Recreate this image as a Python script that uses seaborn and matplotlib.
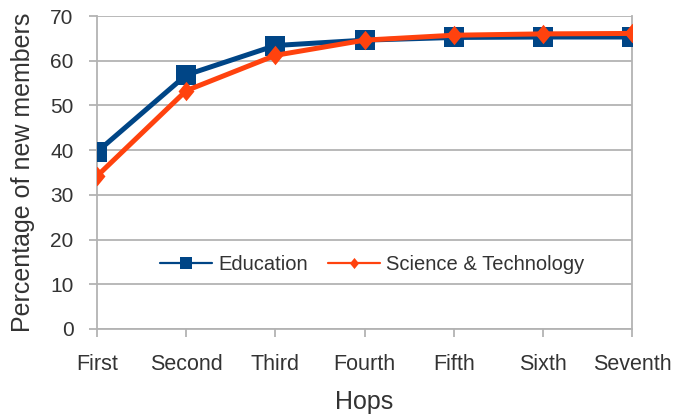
import matplotlib
matplotlib.use("Agg")
import matplotlib.pyplot as plt
import seaborn as sns
import pandas as pd

hops = ["First", "Second", "Third", "Fourth", "Fifth", "Sixth", "Seventh"]
education = [39.6, 56.8, 63.4, 64.6, 65.2, 65.3, 65.3]
science_tech = [34.2, 53.3, 61.2, 64.6, 65.7, 66.0, 66.1]
series_names = ["Education", "Science & Technology"]
colors = {"Education": "#004586", "Science & Technology": "#ff420e"}

df = pd.DataFrame({
    "Hops": hops * 2,
    "value": education + science_tech,
    "series": [series_names[0]] * len(hops) + [series_names[1]] * len(hops),
})

sns.set_style("white")
plt.rcParams["font.family"] = ["Liberation Sans", "DejaVu Sans"]

# slightly narrow diamond
diamond = [(-0.82, 0.0), (0.0, 1.0), (0.82, 0.0), (0.0, -1.0), (-0.82, 0.0)]

fig = plt.figure(figsize=(6.73, 4.16), dpi=100)
ax = fig.add_axes([97 / 673, 1 - 329 / 416, (632 - 97) / 673, (329 - 16) / 416])

sns.lineplot(
    data=df, x="Hops", y="value", hue="series", style="series",
    markers={"Education": "s", "Science & Technology": diamond},
    dashes=False, palette=colors, linewidth=3.6, markersize=14,
    markeredgewidth=0, ax=ax, sort=False, zorder=3,
)

ax.set_xlim(0, len(hops) - 1)
ax.set_ylim(0, 70)
ax.set_yticks(range(0, 71, 10))
ax.set_xticks(range(len(hops)))
ax.set_xticklabels(hops)
ax.grid(axis="y", color="#b3b3b3", linewidth=1.3)
for side in ["left", "right", "bottom"]:
    ax.spines[side].set_visible(True)
    ax.spines[side].set_color("#b3b3b3")
    ax.spines[side].set_linewidth(1.3)
ax.spines["top"].set_visible(False)
ax.tick_params(axis="x", direction="out", length=6, width=1.3, color="#b3b3b3",
               pad=12, labelsize=15.5, labelcolor="#333333", bottom=True)
ax.tick_params(axis="y", direction="out", length=6, width=1.3, color="#b3b3b3",
               pad=11, labelsize=15, labelcolor="#333333", left=True)
ax.set_xlabel("Hops", fontsize=18, color="#333333", labelpad=11)
ax.set_ylabel("Percentage of new members", fontsize=18, color="#333333", labelpad=11)

leg = ax.legend(loc="center", bbox_to_anchor=(0.514, 0.205), ncol=2, frameon=False,
                fontsize=14.5, handlelength=2.6, columnspacing=1.0, handletextpad=0.3)
for h in leg.legend_handles:
    h.set_linewidth(1.6)
    h.set_markersize(8)
for t in leg.get_texts():
    t.set_color("#333333")

fig.savefig("out.png", dpi=100)
